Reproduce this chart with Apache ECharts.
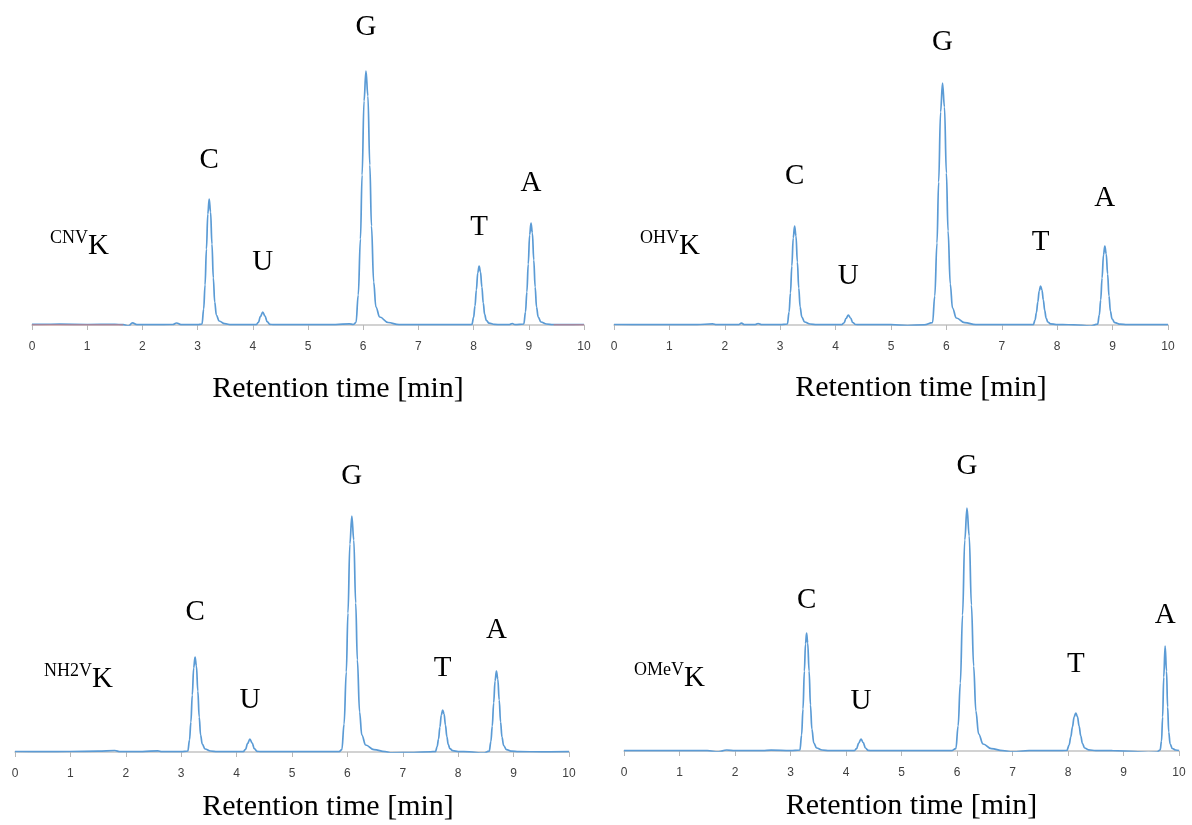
<!DOCTYPE html>
<html>
<head>
<meta charset="utf-8">
<script src="https://cdn.jsdelivr.net/npm/echarts@6/dist/echarts.min.js"></script>
<style>html,body{margin:0;padding:0;background:#fff}#chart{width:1192px;height:825px}</style>
</head>
<body>
<div id="chart"></div>
<script>
// ---------------- DATA ----------------
const peakNames = ['C', 'U', 'G', 'T', 'A'];
const panelNames = [['CNV', 'K'], ['OHV', 'K'], ['NH2V', 'K'], ['OMeV', 'K']];
const axisTitle = 'Retention time [min]';
const xMin = 0, xMax = 10, xStep = 1;

// peak apex retention times [min] and heights (arb. units)
const cnvkPeakTimes   = [3.21, 4.18, 6.05, 8.10, 9.04];
const cnvkPeakHeights = [126, 13, 254, 59, 102];
const ohvkPeakTimes   = [3.26, 4.23, 5.93, 7.70, 8.86];
const ohvkPeakHeights = [99, 10, 242, 39, 79];
const nh2vkPeakTimes   = [3.25, 4.24, 6.08, 7.72, 8.69];
const nh2vkPeakHeights = [95, 13, 236, 42, 81];
const omevkPeakTimes   = [3.29, 4.27, 6.18, 8.14, 9.75];
const omevkPeakHeights = [118, 12, 243, 38, 105];

// chromatogram traces [time, signal]
const cnvkTrace = [
  [0,0.6],[0.5,0.8],[1.0,0.5],[1.5,0.7],[1.65,0.3],[1.75,-0.8],[1.82,2.2],[1.9,0.4],[2.2,0.3],[2.55,0.5],[2.62,2],[2.7,0.4],[3.0,0.3],
  [3.08,1],[3.11,16],[3.135,40],[3.16,76],[3.185,111],[3.21,126],[3.235,113],[3.26,81],[3.285,47],[3.31,23],[3.34,10],[3.39,4],[3.49,1.3],[3.61,0.3],
  [4.06,0.3],[4.10,2.6],[4.14,8.7],[4.18,13],[4.22,9.1],[4.26,3.3],[4.31,0.7],[4.38,0.3],
  [5.0,0.3],[5.5,0.4],[5.75,1.2],[5.82,0.5],
  [5.87,2.5],[5.91,30],[5.95,86],[5.98,150],[6.015,224],[6.05,254],[6.085,229],[6.12,160],[6.15,99],[6.19,43],[6.23,18],[6.30,8],[6.45,2.5],[6.65,0.3],
  [7.0,0.3],[7.5,0.4],[7.9,0.3],
  [7.97,0.6],[8.00,7.7],[8.025,19],[8.05,35],[8.075,52],[8.10,59],[8.125,53],[8.15,38],[8.175,22],[8.20,10.6],[8.23,4.7],[8.28,1.8],[8.38,0.6],[8.5,0.3],
  [8.65,0.4],[8.7,1.5],[8.75,0.3],
  [8.91,1],[8.94,13],[8.965,33],[8.99,61],[9.015,90],[9.04,102],[9.065,92],[9.09,65],[9.115,38],[9.14,18],[9.17,8],[9.22,3],[9.32,1],[9.44,0.4],
  [9.7,0.4],[10,0.5]
];
const cnvkRefTrace = [[0,0],[1.65,0],[1.66,'-'],[9.45,0],[10,0]];

const ohvkTrace = [
  [0,0.5],[0.5,0.3],[1.0,0.5],[1.5,0.3],[1.78,1.2],[1.85,0.3],[2.25,0.4],[2.3,1.8],[2.36,0.3],[2.55,0.4],[2.6,1.5],[2.66,0.3],[3.0,0.3],
  [3.13,1],[3.16,13],[3.185,32],[3.21,59],[3.235,87],[3.26,99],[3.285,89],[3.31,63],[3.335,37],[3.36,18],[3.39,8],[3.44,3],[3.54,1],[3.66,0.3],
  [4.11,0.3],[4.15,2],[4.19,6.7],[4.23,10],[4.27,7],[4.31,2.5],[4.36,0.5],[4.43,0.3],
  [5.0,0.3],[5.3,-0.5],[5.6,0.2],
  [5.75,2.4],[5.79,29],[5.83,82],[5.86,143],[5.895,213],[5.93,242],[5.965,218],[6.00,152],[6.03,94],[6.07,41],[6.11,17],[6.18,7],[6.33,2.4],[6.53,0.3],
  [7.0,0.3],[7.4,0.4],
  [7.57,0.4],[7.60,5],[7.625,12.5],[7.65,23],[7.675,34],[7.70,39],[7.725,35],[7.75,25],[7.775,14.4],[7.80,7],[7.83,3],[7.88,1.2],[7.98,0.4],[8.1,0.3],
  [8.3,0.2],[8.6,-1],
  [8.73,0.8],[8.76,10],[8.785,25],[8.81,47],[8.835,70],[8.86,79],[8.885,71],[8.91,51],[8.935,29],[8.96,14],[8.99,6],[9.04,2.4],[9.14,0.8],[9.26,0.3],
  [9.6,0.4],[10,0.3]
];

const nh2vkTrace = [
  [0,0.5],[0.5,0.3],[1.0,0.5],[1.5,0.8],[1.8,1.5],[1.9,0.3],[2.3,0.4],[2.58,1.2],[2.65,0.3],[3.0,0.3],
  [3.12,1],[3.15,12],[3.175,30],[3.20,57],[3.225,84],[3.25,95],[3.275,86],[3.30,61],[3.325,35],[3.35,17],[3.38,8],[3.43,3],[3.53,1],[3.65,0.3],
  [4.12,0.3],[4.16,2.6],[4.20,8.7],[4.24,13],[4.28,9.1],[4.32,3.3],[4.37,0.7],[4.44,0.3],
  [5.0,0.3],[5.5,0.3],[5.85,0.4],
  [5.90,2.4],[5.94,28],[5.98,80],[6.01,139],[6.045,208],[6.08,236],[6.115,212],[6.15,149],[6.18,92],[6.22,40],[6.26,17],[6.33,7],[6.48,2.4],[6.68,0.3],
  [6.8,-0.8],[7.2,-0.5],[7.5,0.2],
  [7.59,0.4],[7.62,5.5],[7.645,13],[7.67,25],[7.695,37],[7.72,42],[7.745,38],[7.77,27],[7.795,15.5],[7.82,7.6],[7.85,3.4],[7.90,1.3],[8.00,0.4],
  [8.2,0.2],[8.45,-1.2],
  [8.56,0.8],[8.59,10.5],[8.615,26],[8.64,49],[8.665,71],[8.69,81],[8.715,73],[8.74,52],[8.765,30],[8.79,15],[8.82,6.5],[8.87,2.4],[8.97,0.8],[9.09,0.3],
  [9.5,0.2],[10,0.3]
];

const omevkTrace = [
  [0,0.4],[0.5,0.3],[1.0,0.4],[1.5,0.3],[1.7,-0.8],[1.85,1],[2.0,0.3],[2.5,0.3],[2.65,0.8],[3.0,0.3],
  [3.17,1],[3.20,16],[3.225,42],[3.25,80],[3.27,107],[3.29,118],[3.31,108],[3.335,80],[3.36,46],[3.385,22],[3.42,8],[3.47,3],[3.57,1],[3.7,0.3],
  [4.15,0.3],[4.19,2.4],[4.23,8],[4.27,12],[4.31,8.4],[4.35,3],[4.40,0.6],[4.47,0.3],
  [5.0,0.3],[5.5,0.3],[5.9,0.3],
  [5.98,2.4],[6.02,25],[6.06,68],[6.10,136],[6.14,211],[6.18,243],[6.22,215],[6.26,146],[6.30,85],[6.34,40],[6.39,17],[6.47,7],[6.62,2.4],[6.82,0.3],
  [7.0,-0.8],[7.3,0.3],[7.8,0.3],
  [7.98,0.6],[8.02,6],[8.05,14],[8.08,24],[8.11,34],[8.14,38],[8.17,34.5],[8.20,25],[8.23,15],[8.26,7.5],[8.30,3],[8.37,1.1],[8.5,0.4],
  [8.8,0.3],[9.2,-0.5],[9.45,-1.5],[9.6,-1.2],
  [9.66,1],[9.685,10],[9.705,34],[9.725,74],[9.75,105],[9.775,80],[9.795,44],[9.815,19],[9.84,7],[9.88,2.5],[9.94,1],[10,0.5]
];

// ---------------- LAYOUT ----------------
const panels = [
  { trace: cnvkTrace, times: cnvkPeakTimes, heights: cnvkPeakHeights, name: panelNames[0],
    grid: {left: 32, top: 55, width: 552, height: 270}, nameGap: 49, titleShift: 60, tag: {left: 50, top: 229},
    lift: [38, 49, 43, 38, 39] },
  { trace: ohvkTrace, times: ohvkPeakTimes, heights: ohvkPeakHeights, name: panelNames[1],
    grid: {left: 614, top: 55, width: 554, height: 270}, nameGap: 48, titleShift: 60, tag: {left: 640, top: 229},
    lift: [49, 38, 40, 43, 47] },
  { trace: nh2vkTrace, times: nh2vkPeakTimes, heights: nh2vkPeakHeights, name: panelNames[2],
    grid: {left: 15, top: 482, width: 554, height: 270}, nameGap: 40, titleShift: 72, tag: {left: 44, top: 662},
    lift: [44, 38, 39, 41, 40] },
  { trace: omevkTrace, times: omevkPeakTimes, heights: omevkPeakHeights, name: panelNames[3],
    grid: {left: 624, top: 481, width: 555, height: 270}, nameGap: 40, titleShift: 20, tag: {left: 634, top: 661},
    lift: [32, 37, 41, 48, 30] }
];

const lineColor = '#5b9bd5';
const serif = '"Liberation Serif", "Times New Roman", serif';

const option = {
  animation: false,
  backgroundColor: '#ffffff',
  grid: [], xAxis: [], yAxis: [], series: [], title: []
};

panels.forEach((p, i) => {
  option.grid.push(Object.assign({containLabel: false}, p.grid));
  option.xAxis.push({
    type: 'value', gridIndex: i, min: xMin, max: xMax, interval: xStep,
    axisLine: {show: true, onZero: false, lineStyle: {color: '#c4c4c4', width: 1.5}},
    axisTick: {show: true, length: 5, lineStyle: {color: '#b8b8b8', width: 1}},
    axisLabel: {color: '#404040', fontSize: 12, margin: 16, fontFamily: '"Liberation Sans", Arial, sans-serif'},
    splitLine: {show: false},
    name: axisTitle, nameLocation: 'middle', nameGap: p.nameGap,
    nameTextStyle: {fontFamily: serif, fontSize: 30, color: '#000', padding: [0, 0, 0, p.titleShift]}
  });
  option.yAxis.push({
    type: 'value', gridIndex: i, min: 0, max: p.grid.height, show: false,
    splitLine: {show: false}
  });
  if (i === 0) {
    option.series.push({
      type: 'line', xAxisIndex: i, yAxisIndex: i, data: cnvkRefTrace,
      showSymbol: false, silent: true, z: 3,
      lineStyle: {color: '#e8736c', width: 1.2}
    });
  }
  option.series.push({
    type: 'line', xAxisIndex: i, yAxisIndex: i, data: p.trace,
    showSymbol: false, silent: true, smooth: 0.4, smoothMonotone: 'x', z: 2,
    lineStyle: {color: lineColor, width: 1.7}
  });
  option.series.push({
    type: 'scatter', xAxisIndex: i, yAxisIndex: i, symbolSize: 0, silent: true, z: 5,
    itemStyle: {opacity: 1},
    data: peakNames.map((n, k) => ({
      name: n, value: [p.times[k], p.heights[k]],
      label: {distance: p.lift[k] - 14}
    })),
    label: {show: true, position: 'top', formatter: '{b}', fontFamily: serif, fontSize: 29,
            color: '#000', opacity: 1, fontWeight: 'normal'}
  });
  option.title.push({
    left: p.tag.left, top: p.tag.top, padding: 0,
    text: '{s|' + p.name[0] + '}{k|' + p.name[1] + '}',
    textStyle: {
      fontWeight: 'normal',
      rich: {
        s: {fontFamily: serif, fontSize: 18, fontWeight: 'normal', color: '#000', verticalAlign: 'top', lineHeight: 30},
        k: {fontFamily: serif, fontSize: 29, fontWeight: 'normal', color: '#000', verticalAlign: 'top', lineHeight: 30, padding: [3, 0, 0, 0]}
      }
    }
  });
});

const chart = echarts.init(document.getElementById('chart'), null, {renderer: 'canvas'});
chart.setOption(option);
</script>
</body>
</html>
